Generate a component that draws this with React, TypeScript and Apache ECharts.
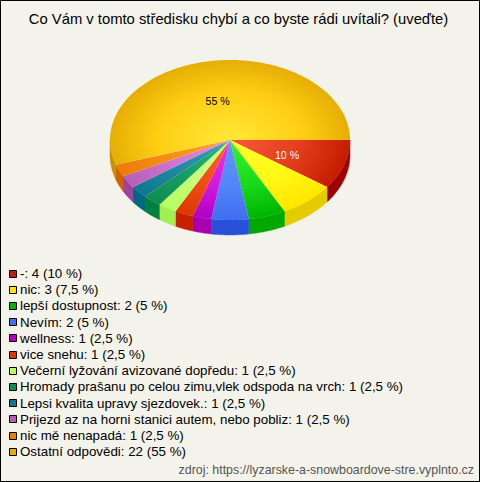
import React, { useEffect, useRef } from "react";
import * as echarts from "echarts";

const TITLE = "Co Vám v tomto středisku chybí a co byste rádi uvítali? (uveďte)";
const SOURCE = "zdroj: https://lyzarske-a-snowboardove-stre.vyplnto.cz";
const categories = ["-", "nic", "lepší dostupnost", "Nevím", "wellness", "vice snehu", "Večerní lyžování avizované dopředu", "Hromady prašanu po celou zimu,vlek odspoda na vrch", "Lepsi kvalita upravy sjezdovek.", "Prijezd az na horni stanici autem, nebo pobliz", "nic mě nenapadá", "Ostatní odpovědi"];
const counts = [4, 3, 2, 2, 1, 1, 1, 1, 1, 1, 1, 22];
const percentLabels = ["10", "7,5", "5", "5", "2,5", "2,5", "2,5", "2,5", "2,5", "2,5", "2,5", "55"];
const innerColors = ["#FA5A38", "#FFFF30", "#32F632", "#6496FF", "#F032F4", "#FF6428", "#D2FF8C", "#22BE78", "#349CB4", "#E48CE4", "#FFA428", "#FFE838"];
const midColors = ["#E23C1C", "#FFF814", "#18D818", "#5084F8", "#D018DC", "#EE4C14", "#C4FF78", "#169C60", "#2088A0", "#CC74CC", "#F48C14", "#FFCE14"];
const rimColors = ["#C41C00", "#FFE600", "#00B400", "#3E6EF0", "#B000C4", "#DC3800", "#B6FF60", "#0E8E50", "#0E7890", "#B65EB8", "#EC7C04", "#E6AE04"];
const sideColors = ["#A00000", "#E4CC00", "#00A800", "#2850D8", "#A800B0", "#C82000", "#A0F050", "#008040", "#006880", "#A040A0", "#D06000", "#C89000"];
const legendColors = ["#C41C00", "#FFE600", "#00B400", "#4070F0", "#B000C4", "#DC3800", "#B6FF60", "#0E8E50", "#0E7890", "#B65EB8", "#EC7C04", "#E4AC04"];
const labelledSlices = [0, 11];

const CX = 230, CY = 140, RX = 120, RY = 80, DEPTH = 15;
const total = counts.reduce((a, b) => a + b, 0);

function arcPoints(a0: number, a1: number) {
  const n = Math.max(2, Math.ceil(Math.abs(a1 - a0) / (Math.PI / 180)));
  const pts: number[][] = [];
  for (let i = 0; i <= n; i++) {
    const a = a0 + ((a1 - a0) * i) / n;
    pts.push([Math.cos(a), Math.sin(a)]);
  }
  return pts;
}

export default function App() {
  const ref = useRef<HTMLDivElement>(null);
  useEffect(() => {
    const chart = echarts.init(ref.current!, null, { renderer: "svg" });
    const starts: number[] = [];
    let acc = 0;
    counts.forEach((c) => { starts.push(acc); acc += c; });
    const angle = (v: number) => (v / total) * Math.PI * 2;

    const renderItem = (params: any) => {
      const i = params.dataIndex;
      const a0 = angle(starts[i]);
      const a1 = angle(starts[i] + counts[i]);
      const children: any[] = [];
      const f0 = a0, f1 = Math.min(a1, Math.PI);
      if (f1 > f0) {
        const pts = arcPoints(f0, f1);
        const top = pts.map(([c, s]) => [CX + RX * c, CY + RY * s]);
        const bot = pts.slice().reverse().map(([c, s]) => [CX + RX * c, CY + RY * s + DEPTH]);
        children.push({ type: "polygon", shape: { points: top.concat(bot) }, style: { fill: sideColors[i], stroke: sideColors[i], lineWidth: 0.4 } });
      }
      const face = [[0, 0]].concat(arcPoints(a0, a1).map(([c, s]) => [RX * c, RX * s]));
      children.push({
        type: "polygon",
        x: CX, y: CY, scaleY: RY / RX,
        shape: { points: face },
        style: {
          fill: {
            type: "radial", x: 0, y: 0, r: RX, global: true,
            colorStops: [
              { offset: 0, color: innerColors[i] },
              { offset: 0.6, color: midColors[i] },
              { offset: 1, color: rimColors[i] },
            ],
          },
        },
      });
      return { type: "group", children };
    };

    const labelGraphics = labelledSlices.map((i) => {
      const mid = angle(starts[i] + counts[i] / 2);
      return {
        type: "text",
        x: CX + RX * 0.5 * Math.cos(mid) - (i === 0 ? 0 : 3),
        y: CY + RY * 0.5 * Math.sin(mid) + (i === 0 ? 3 : 1),
        style: { text: percentLabels[i] + " %", fill: i === 0 ? "#FFFFFF" : "#000000", font: "10.67px 'Liberation Sans'", align: "center", verticalAlign: "middle" },
      };
    });

    const legendGraphics: any[] = [];
    categories.forEach((name, i) => {
      const y = 273.5 + i * 16.2;
      legendGraphics.push({ type: "rect", shape: { x: 9.5, y: Math.round(y - 4) + 0.5, width: 7, height: 7 }, style: { fill: legendColors[i], stroke: "#000000", lineWidth: 1 } });
      legendGraphics.push({ type: "text", x: 20, y: y, style: { text: `${name}: ${counts[i]} (${percentLabels[i]} %)`, fill: "#000000", font: "13.33px 'Liberation Sans'", verticalAlign: "middle" } });
    });

    chart.setOption({
      animation: false,
      backgroundColor: "#F4F3EB",
      series: [{
        type: "custom",
        coordinateSystem: "none",
        silent: true,
        renderItem,
        data: counts.map((v, i) => ({ name: categories[i], value: v })),
      }],
      graphic: [
        { type: "rect", z: 10, shape: { x: 0.5, y: 0.5, width: 479, height: 481 }, style: { fill: "none", stroke: "#000000", lineWidth: 1 } },
        { type: "text", z: 10, x: 238.5, y: 19, style: { text: TITLE, fill: "#000000", font: "14.8px 'Liberation Sans'", align: "center", verticalAlign: "middle" } },
        { type: "text", z: 10, x: 474, y: 470, style: { text: SOURCE, fill: "#555555", font: "12.4px 'Liberation Sans'", align: "right", verticalAlign: "middle" } },
        ...labelGraphics.map((g) => ({ ...g, z: 10 })),
        ...legendGraphics.map((g) => ({ ...g, z: 10 })),
      ],
    });
    return () => chart.dispose();
  }, []);
  return <div ref={ref} style={{ width: 480, height: 482, position: "fixed", left: 0, top: 0 }} />;
}
